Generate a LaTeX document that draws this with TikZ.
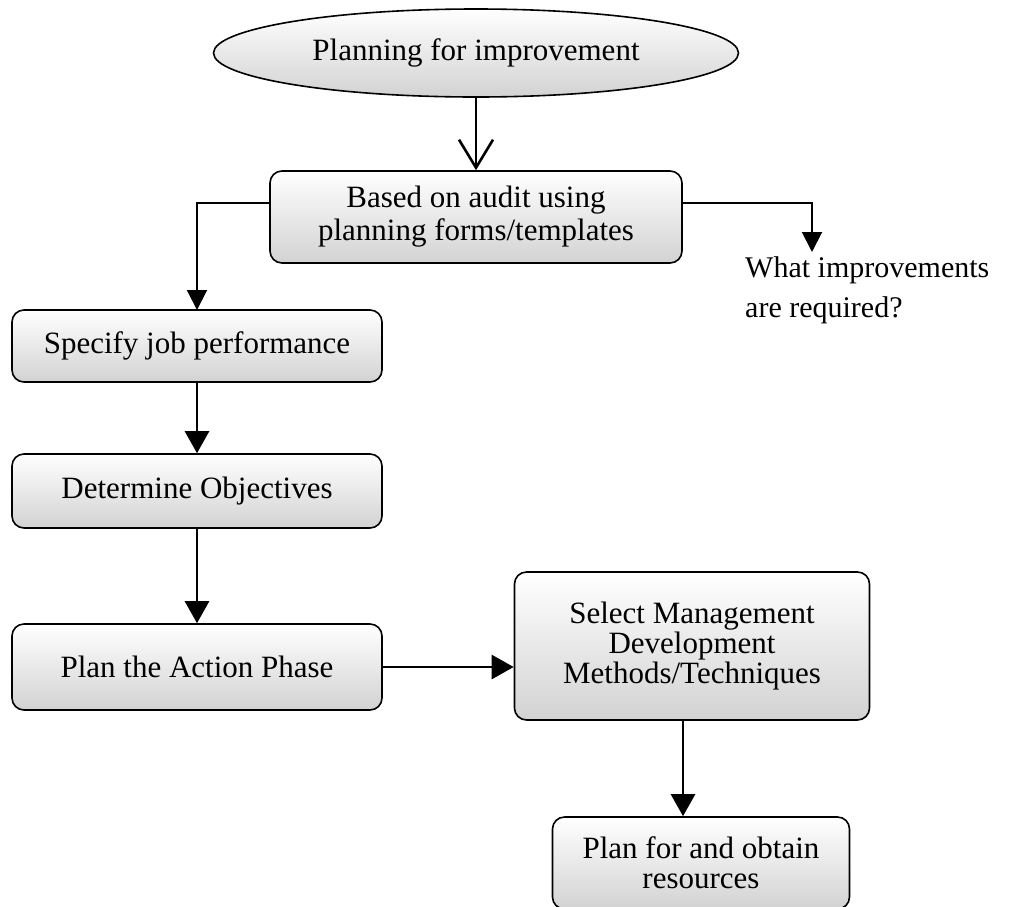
\documentclass[tikz,border=0pt]{standalone}
\usepackage{fontspec}
\setmainfont{Liberation Serif}
\usetikzlibrary{shapes.geometric,arrows.meta}
\begin{document}
\begin{tikzpicture}[x=1pt,y=-1pt,
  every node/.style={font=\fontsize{31}{30}\selectfont},
  shade/.style={top color=white, middle color=white, bottom color=gray!35},
  stepbox/.style={draw, line width=1.6pt, rounded corners=12pt, align=center, shade},
  flow/.style={line width=2.6pt, -{Triangle[length=22pt,width=24pt]}},
  vflow/.style={line width=2.6pt, -{Straight Barb[length=28pt,width=34pt,line width=2.6pt]}},
  link/.style={line width=2pt, -{Triangle[length=20pt,width=20pt]}}]
\useasboundingbox (0,0) rectangle (1012,906);

% top ellipse
\node[draw, line width=1.6pt, ellipse, minimum width=525pt, minimum height=88pt, shade]
  (start) at (476,53) {Planning for improvement};

% process boxes
\node[stepbox, minimum width=412pt, minimum height=92pt] (audit) at (476,217)
  {Based on audit using\\[3pt]planning forms/templates};
\node[stepbox, minimum width=370pt, minimum height=72pt] (spec) at (197,346)
  {Specify job performance};
\node[stepbox, minimum width=370pt, minimum height=74pt] (obj) at (197,491)
  {Determine Objectives};
\node[stepbox, minimum width=370pt, minimum height=86pt] (act) at (197,667)
  {Plan the Action Phase};
\node[stepbox, minimum width=355pt, minimum height=148pt] (sel) at (692,646)
  {Select Management\\Development\\Methods/Techniques};
\node[stepbox, minimum width=297pt, minimum height=92pt] (res) at (701,863)
  {Plan for and obtain\\resources};

% side question, two lines set wide apart
\node[anchor=base west, align=left, inner sep=0pt, font=\fontsize{30}{40}\selectfont]
  (q) at (745,317) {What improvements\\are required?};
\coordinate (qtip) at (812,252);
\coordinate (ltip) at (197,310);

% connectors
\draw[vflow] (start.south -| audit.north) -- (audit.north);
\draw[link] (audit.west |- 0,203) -| (ltip);
\draw[link] (audit.east |- 0,203) -| (qtip);
\draw[flow] (spec.south) -- (obj.north);
\draw[flow] (obj.south) -- (act.north);
\draw[flow] (act.east) -- (sel.west |- act.east);
\draw[flow] (sel.south -| 683,0) -- (res.north -| 683,0);
\end{tikzpicture}
\end{document}
